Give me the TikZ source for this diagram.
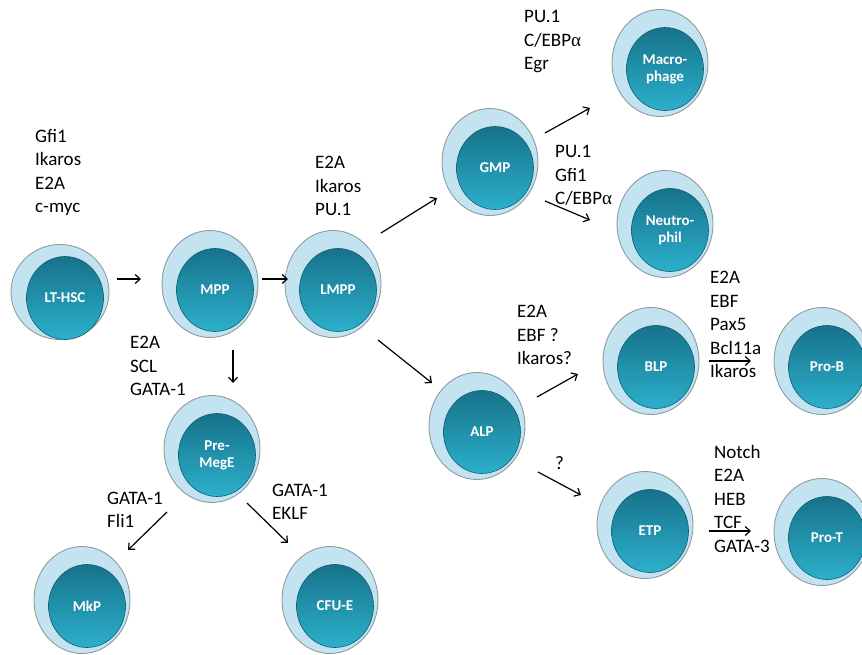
\documentclass[tikz,border=0pt]{standalone}
\usepackage{fontspec}
\setmainfont{Carlito}
\newfontfamily\grk{Liberation Serif}
\usetikzlibrary{shapes.geometric,arrows.meta}
\definecolor{cellouter}{HTML}{C4E3F1}
\definecolor{cellrim}{HTML}{8E9CA2}
\definecolor{tealtop}{HTML}{17728A}
\definecolor{tealbot}{HTML}{2CB0CC}
\definecolor{innerrim}{HTML}{0F5E70}
\newcommand\mkcell[5][]{%
  \node[cellout,#1] (#2o) at (#3) {};
  \node[cellin] (#2) at ([xshift=5pt,yshift=-6pt]#2o.center) {#4#5};}
\begin{document}
\begin{tikzpicture}[x=1pt,y=-1pt,
  cellout/.style={ellipse, draw=cellrim, line width=0.9pt, fill=cellouter,
    minimum width=96pt, minimum height=107pt, inner sep=0pt},
  cellin/.style={ellipse, draw=innerrim, line width=0.6pt, top color=tealtop,
    bottom color=tealbot, minimum width=77pt, minimum height=83pt, inner sep=0pt,
    text=white, font=\fontsize{15}{17}\selectfont\bfseries, align=center},
  tf/.style={font=\fontsize{19}{23.5}\selectfont, align=left, anchor=west, inner sep=0pt},
  arr/.style={-{Straight Barb[length=5pt,width=9pt]}, line width=1.2pt}
]
\useasboundingbox (0,0) rectangle (862,655);
\fill[white] (0,0) rectangle (862,655);

% cells
\mkcell[minimum width=98pt, minimum height=95pt]{lthsc}{60,292}{LT-HSC}{}
\mkcell{mpp}{210,284}{MPP}{}
\mkcell{lmpp}{333,284}{LMPP}{}
\mkcell{gmp}{490,162}{GMP}{}
\mkcell{mac}{660,63}{Macro-\\phage}{}
\mkcell{neu}{665,224}{Neutro-\\phil}{}
\mkcell{alp}{477,426}{ALP}{}
\mkcell{blp}{651,361}{BLP}{}
\mkcell{prob}{822,361}{Pro-B}{}
\mkcell{etp}{645,525}{ETP}{}
\mkcell{prot}{822,532}{Pro-T}{}
\mkcell{premege}{212,449}{Pre-\\MegE}{}
\mkcell{mkp}{82,600}{MkP}{}
\mkcell{cfue}{330,600}{CFU-E}{}

% factor labels
\node[tf] (t1) at (35,172.5) {Gfi1\\Ikaros\\E2A\\c-myc};
\node[tf] (t2) at (315,186) {E2A\\Ikaros\\PU.1};
\node[tf] (t3) at (130,366) {E2A\\SCL\\GATA-1};
\node[tf] (t4) at (524,42) {PU.1\\C/EBP{\grk α}\\Egr};
\node[tf] (t5) at (555,175.5) {PU.1\\Gfi1\\C/EBP{\grk α}};
\node[tf] (t6) at (517,335) {E2A\\EBF ?\\Ikaros?};
\node[tf] (t7) at (710,324.5) {E2A\\EBF\\Pax5\\Bcl11a\\Ikaros};
\node[tf] (t8) at (555,463) {?};
\node[tf] (t9) at (714,498.5) {Notch\\E2A\\HEB\\TCF\\GATA-3};
\node[tf] (t10) at (107,510) {GATA-1\\Fli1};
\node[tf] (t11) at (272,502) {GATA-1\\EKLF};

% arrow end points
\coordinate (a1) at (117,279); \coordinate (a2) at (141,279);
\coordinate (b1) at (262,279); \coordinate (b2) at (288,279);
\coordinate (c1) at (233,350); \coordinate (c2) at (233,383);
\coordinate (d1) at (381,233); \coordinate (d2) at (437,198);
\coordinate (e1) at (378,340); \coordinate (e2) at (432,383);
\coordinate (f1) at (545,133); \coordinate (f2) at (590,108);
\coordinate (g1) at (545,201); \coordinate (g2) at (590,220);
\coordinate (h1) at (537,397); \coordinate (h2) at (578,374);
\coordinate (i1) at (538,472); \coordinate (i2) at (581,495);
\coordinate (j1) at (709,361); \coordinate (j2) at (751,361);
\coordinate (k1) at (709,531); \coordinate (k2) at (751,531);
\coordinate (l1) at (167,512); \coordinate (l2) at (128,550);
\coordinate (m1) at (247,503); \coordinate (m2) at (288,543);

\foreach \p in {a,b,c,d,e,f,g,h,i,j,k,l,m}
  \draw[arr] (\p1) -- (\p2);
\end{tikzpicture}
\end{document}
